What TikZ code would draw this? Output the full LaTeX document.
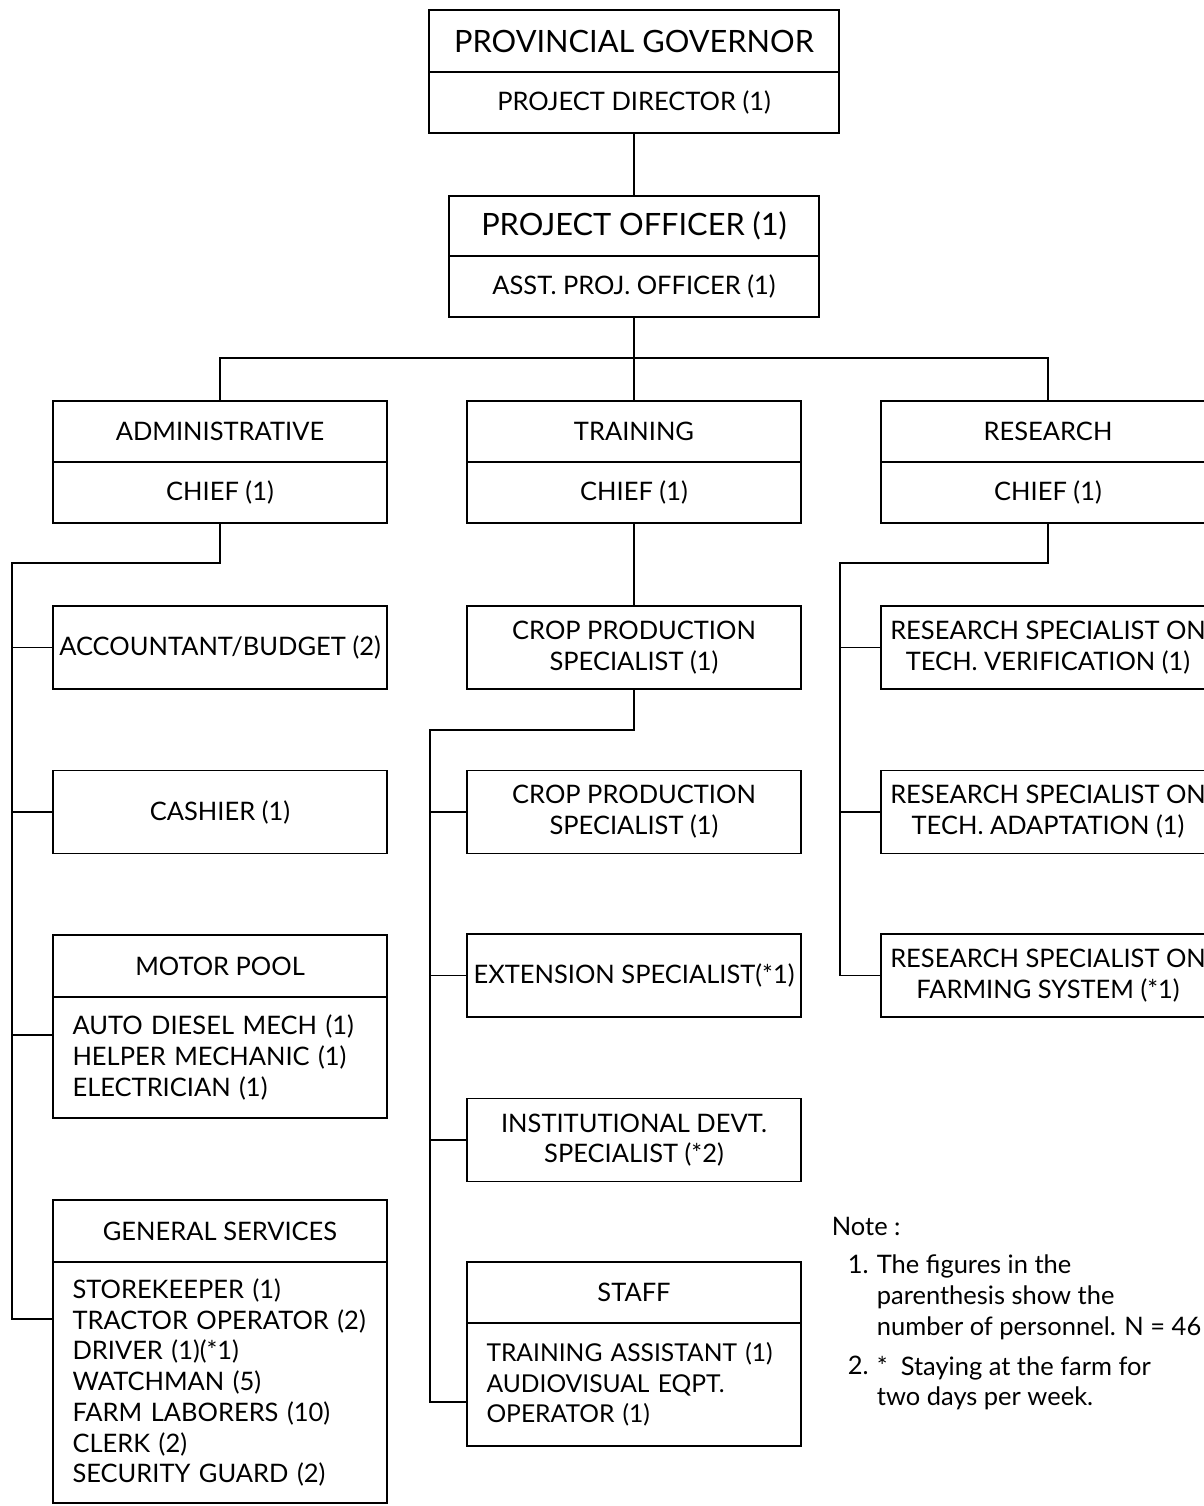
\documentclass[tikz,border=0pt]{standalone}
\usepackage{fontspec}
\setmainfont{Lato}
\usetikzlibrary{calc}
\begin{document}
\begin{tikzpicture}[x=0.02cm,y=-0.02cm,line width=1pt,
  every node/.style={font=\fontsize{14.5}{17.5}\selectfont,inner sep=0pt},
  cell/.style={draw,minimum width=6.68cm,minimum height=1.22cm,align=center},
  sbox/.style={draw,minimum width=6.68cm,minimum height=1.66cm,align=center},
  lbox/.style={draw,text width=5.9cm,inner xsep=0.39cm,align=left}]
\useasboundingbox (0,0) rectangle (1203,1506);
% top of the chart
\node[cell,minimum width=8.2cm,minimum height=1.24cm,font=\fontsize{17.5}{21}\selectfont] (gov) at (634,41) {PROVINCIAL GOVERNOR};
\node[cell,minimum width=8.2cm] (dir) at (634,102.5) {PROJECT DIRECTOR (1)};
\node[cell,minimum width=7.4cm,minimum height=1.2cm,font=\fontsize{17.5}{21}\selectfont] (po) at (634,226) {PROJECT OFFICER (1)};
\node[cell,minimum width=7.4cm] (apo) at (634,286.5) {ASST. PROJ. OFFICER (1)};
% divisions
\node[cell] (adm) at (220,431.5) {ADMINISTRATIVE};
\node[cell] (admc) at (220,492.5) {CHIEF (1)};
\node[cell] (tra) at (634,431.5) {TRAINING};
\node[cell] (trac) at (634,492.5) {CHIEF (1)};
\node[cell] (res) at (1048,431.5) {RESEARCH};
\node[cell] (resc) at (1048,492.5) {CHIEF (1)};
% administrative column
\node[sbox] (acc) at (220,647.5) {ACCOUNTANT/BUDGET (2)};
\node[sbox] (cash) at (220,812) {CASHIER (1)};
\node[cell,minimum height=1.24cm] (mp) at (220,966) {MOTOR POOL};
\node[lbox,minimum height=2.42cm] (mpl) at (220,1057.5) {AUTO DIESEL MECH (1)\\HELPER MECHANIC (1)\\ELECTRICIAN (1)};
\node[cell,minimum height=1.24cm] (gs) at (220,1231) {GENERAL SERVICES};
\node[lbox,minimum height=4.82cm] (gsl) at (220,1382.5) {STOREKEEPER (1)\\TRACTOR OPERATOR (2)\\DRIVER (1)(*1)\\WATCHMAN (5)\\FARM LABORERS (10)\\CLERK (2)\\SECURITY GUARD (2)};
% training column
\node[sbox] (crop) at (634,647.5) {CROP PRODUCTION\\SPECIALIST (1)};
\node[sbox] (crop2) at (634,812) {CROP PRODUCTION\\SPECIALIST (1)};
\node[sbox] (ext) at (634,975.5) {EXTENSION SPECIALIST(*1)};
\node[sbox] (inst) at (634,1140) {INSTITUTIONAL DEVT.\\SPECIALIST (*2)};
\node[cell] (stf) at (634,1292.5) {STAFF};
\node[lbox,minimum height=2.46cm,font=\fontsize{14}{17.5}\selectfont] (stfl) at (634,1384.5) {TRAINING ASSISTANT (1)\\AUDIOVISUAL EQPT.\\OPERATOR (1)};
% research column
\node[sbox] (rs1) at (1048,647.5) {RESEARCH SPECIALIST ON\\TECH. VERIFICATION (1)};
\node[sbox] (rs2) at (1048,812) {RESEARCH SPECIALIST ON\\TECH. ADAPTATION (1)};
\node[sbox] (rs3) at (1048,975.5) {RESEARCH SPECIALIST ON\\FARMING SYSTEM (*1)};
% note
\node[anchor=west] (note) at (831,1226) {Note :};
\node[anchor=north west] (n1) at (847,1254) {1.};
\node[anchor=north west,align=left] (n1t) at (876,1254) {The figures in the\\parenthesis show the\\number of personnel. N = 46};
\node[anchor=north west] (n2) at (847,1355) {2.};
\node[anchor=north west,align=left] (n2t) at (876,1355) {* \ Staying at the farm for\\two days per week.};
% lines
\coordinate (bus) at (634,358);
\coordinate (aspine) at (12,563);
\coordinate (tspine) at (430,730);
\coordinate (rspine) at (840,563);
\draw (dir.south) -- (po.north);
\draw (apo.south) -- (bus);
\draw (adm.north) |- (bus) -| (res.north);
\draw (bus) -- (tra.north);
\draw (trac.south) -- (crop.north);
\draw (admc.south) |- (aspine) |- ($(gsl.north west)+(0,58)$);
\foreach \n in {acc,cash} \draw (aspine |- \n.west) -- (\n.west);
\draw (aspine |- mpl.north west) ++(0,39) -- ($(mpl.north west)+(0,39)$);
\draw (crop.south) |- (tspine) |- ($(stfl.north west)+(0,80)$);
\foreach \n in {crop2,ext,inst} \draw (tspine |- \n.west) -- (\n.west);
\draw (resc.south) |- (rspine) |- (rs3.west);
\foreach \n in {rs1,rs2} \draw (rspine |- \n.west) -- (\n.west);
\end{tikzpicture}
\end{document}
